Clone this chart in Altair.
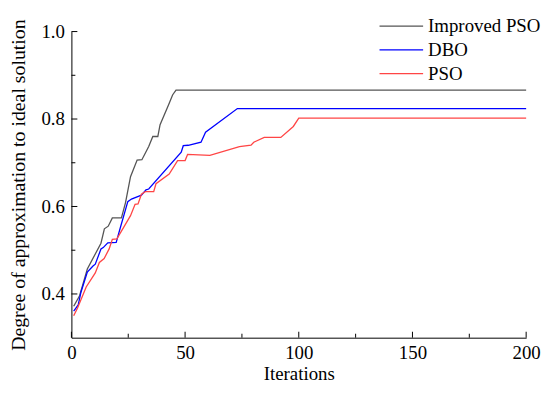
import altair as alt
import pandas as pd

# ---- data ----
series_names = ["Improved PSO", "DBO", "PSO"]
series_colors = ["#555555", "#0000FF", "#FF4545"]

ipso_x = [1, 3.6, 7, 13, 14.5, 16.2, 18, 22, 23.8, 26, 28.9, 31, 34, 35.8, 38, 39, 42.7, 44.5, 46, 200]
ipso_y = [0.372, 0.396, 0.457, 0.516, 0.549, 0.555, 0.574, 0.574, 0.609, 0.668, 0.706, 0.707,
          0.737, 0.760, 0.760, 0.787, 0.832, 0.855, 0.866, 0.866]

dbo_x = [1, 3, 4.2, 7, 9.5, 10.5, 13, 14, 16, 19.7, 21.6, 24.8, 26.4, 30.8, 32.8, 34,
         48.3, 49.2, 51.4, 57, 59, 73, 200]
dbo_y = [0.361, 0.375, 0.404, 0.450, 0.464, 0.468, 0.503, 0.506, 0.517, 0.518, 0.553, 0.611,
         0.617, 0.626, 0.638, 0.640, 0.724, 0.739, 0.740, 0.747, 0.770, 0.824, 0.824]

pso_x = [1, 2.7, 6.5, 10.5, 12.3, 14.4, 16.6, 18, 20, 26, 28, 29.3, 30.8, 32.5, 36.2, 37.2,
         43, 46.7, 50, 51.1, 60.9, 73.9, 79, 80.2, 84.8, 92.1, 97.6, 100, 200]
pso_y = [0.350, 0.368, 0.416, 0.448, 0.472, 0.481, 0.503, 0.525, 0.526, 0.579, 0.605, 0.606,
         0.628, 0.634, 0.634, 0.652, 0.674, 0.705, 0.705, 0.719, 0.717, 0.737, 0.740, 0.747,
         0.758, 0.758, 0.783, 0.802, 0.802]

x_major = [0, 50, 100, 150, 200]
x_minor = [25, 75, 125, 175]
y_major = [0.4, 0.6, 0.8, 1.0]
y_minor = [0.5, 0.7, 0.9]

rows = []
for name, xs, ys in [("Improved PSO", ipso_x, ipso_y), ("DBO", dbo_x, dbo_y), ("PSO", pso_x, pso_y)]:
    for i, (a, b) in enumerate(zip(xs, ys)):
        rows.append({"series": name, "iter": a, "value": b, "order": i})
df = pd.DataFrame(rows)

W, H = 459, 309
FONT = "Liberation Serif"

xscale = alt.Scale(domain=[0, 200], nice=False, zero=False)
yscale = alt.Scale(domain=[0.3, 1.0], nice=False, zero=False)

lines = alt.Chart(df).mark_line(strokeWidth=1.3).encode(
    x=alt.X("iter:Q", scale=xscale,
            axis=alt.Axis(title="Iterations", values=x_major, format="d", ticks=False,
                          grid=False, labelPadding=6, titlePadding=2, labelFlush=False)),
    y=alt.Y("value:Q", scale=yscale,
            axis=alt.Axis(title="Degree of approximation to ideal solution", values=y_major,
                          format=".1f", ticks=False, grid=False, labelPadding=7,
                          titlePadding=13, titleFontSize=20, labelFlush=False)),
    color=alt.Color("series:N",
                    scale=alt.Scale(domain=series_names, range=series_colors),
                    legend=alt.Legend(title=None, orient="none", legendX=307, legendY=-15,
                                      symbolType="M-1,0H7", symbolSize=121,
                                      symbolStrokeWidth=1.3, labelOffset=34,
                                      labelFontSize=19, labelFont=FONT,
                                      labelColor="black", rowPadding=4, padding=0)),
    order="order:Q",
)

tx_major = alt.Chart(pd.DataFrame({"v": x_major})).mark_rule(color="black", strokeWidth=1).encode(
    x=alt.X("v:Q", scale=xscale), y=alt.value(H), y2=alt.value(H - 6))
tx_minor = alt.Chart(pd.DataFrame({"v": x_minor})).mark_rule(color="black", strokeWidth=1).encode(
    x=alt.X("v:Q", scale=xscale), y=alt.value(H), y2=alt.value(H - 4))
ty_major = alt.Chart(pd.DataFrame({"v": y_major})).mark_rule(color="black", strokeWidth=1).encode(
    y=alt.Y("v:Q", scale=yscale), x=alt.value(0), x2=alt.value(6))
ty_minor = alt.Chart(pd.DataFrame({"v": y_minor})).mark_rule(color="black", strokeWidth=1).encode(
    y=alt.Y("v:Q", scale=yscale), x=alt.value(0), x2=alt.value(4))

chart = alt.layer(lines, tx_major, tx_minor, ty_major, ty_minor).properties(
    width=W, height=H,
    autosize=alt.AutoSizeParams(type="none"),
    padding={"left": 64, "top": 22, "right": 16, "bottom": 48},
).configure_view(stroke=None).configure_axis(
    labelFont=FONT, titleFont=FONT, labelFontSize=19, titleFontSize=19,
    labelColor="black", titleColor="black", titleFontWeight="normal",
    domainColor="black", domainWidth=1,
).configure_legend(labelLimit=0)

chart.save("out.html", embed_options={"renderer": "svg", "actions": False})
